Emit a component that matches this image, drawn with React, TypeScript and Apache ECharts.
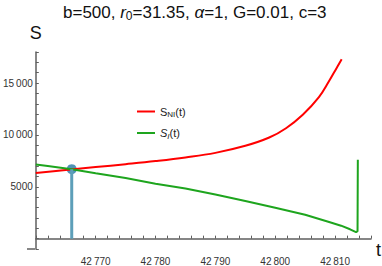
import React, { useEffect, useRef } from 'react';
import * as echarts from 'echarts';

// S_NI(t) curve
const tRed = [42760, 42765, 42770, 42775, 42780, 42785, 42790, 42795, 42799, 42801.8, 42804.6, 42807.3, 42809, 42810.1, 42811.1];
const sNI = [6330, 6615, 6900, 7180, 7480, 7830, 8270, 8950, 9750, 10650, 11950, 13650, 15200, 16300, 17300];
// S_I(t) curve
const tGreen = [42760, 42762, 42766, 42770, 42775, 42780, 42785, 42790, 42795, 42800, 42805, 42809, 42811, 42812.5, 42813.5, 42813.75, 42813.8];
const sI = [7150, 7000, 6700, 6300, 5840, 5300, 4830, 4250, 3630, 2980, 2300, 1600, 1250, 900, 620, 720, 7600];
// marked crossing point
const tStar = 42766;
const sStar = 6700;

const yMajor = [5000, 10000, 15000];
const xMajor = [42770, 42780, 42790, 42800, 42810];

const FONT = '"Liberation Sans", Arial, sans-serif';

function fmtNum(v: number): string {
  if (Math.abs(v) >= 10000) {
    const th = Math.floor(v / 1000);
    const rest = String(Math.round(v % 1000)).padStart(3, '0');
    return `${th}\u2009${rest}`;
  }
  return String(v);
}

export default function App() {
  const ref = useRef<HTMLDivElement>(null);
  useEffect(() => {
    if (!ref.current) return;
    const chart = echarts.init(ref.current, null, { renderer: 'svg' });
    const axisColor = '#5f5f5f';
    chart.setOption({
      animation: false,
      backgroundColor: '#ffffff',
      title: {
        left: 63,
        top: 2,
        padding: 0,
        text: '{n|b=500, }{i|r}{s|0}{n|=31.35, }{i|α}{n|=1, G=0.01, c=3}',
        textStyle: {
          fontFamily: FONT,
          fontWeight: 'normal',
          rich: {
            n: { fontSize: 17, color: '#111', fontFamily: FONT, lineHeight: 20 },
            i: { fontSize: 17, color: '#111', fontStyle: 'italic', fontFamily: FONT, lineHeight: 20 },
            s: { fontSize: 12, color: '#111', fontFamily: FONT, lineHeight: 12, verticalAlign: 'bottom' },
          },
        },
      },
      legend: {
        data: ['SNI', 'SI'],
        orient: 'vertical',
        left: 132,
        top: 101,
        itemWidth: 18,
        itemHeight: 2,
        itemGap: 9,
        icon: 'rect',
        formatter: (name: string) =>
          name === 'SNI' ? '{a|S}{b|NI}{c|(t)}' : '{ai|S}{bi|I}{c|(t)}',
        textStyle: {
          fontFamily: FONT,
          rich: {
            a: { fontSize: 11, color: '#222', fontFamily: FONT, lineHeight: 14 },
            ai: { fontSize: 11, color: '#222', fontStyle: 'italic', fontFamily: FONT, lineHeight: 14 },
            b: { fontSize: 8, color: '#222', fontFamily: FONT, lineHeight: 8, verticalAlign: 'bottom' },
            bi: { fontSize: 8, color: '#222', fontStyle: 'italic', fontFamily: FONT, lineHeight: 8, verticalAlign: 'bottom' },
            c: { fontSize: 11, color: '#222', fontFamily: FONT, lineHeight: 14 },
          },
        },
      },
      grid: { left: 35, right: 11, top: 52, bottom: 6, containLabel: false },
      xAxis: {
        type: 'value',
        min: 42760,
        max: 42816,
        interval: 2,
        axisLine: { onZero: true, lineStyle: { color: axisColor, width: 1.5 } },
        axisTick: { inside: true, length: 3, lineStyle: { color: axisColor, width: 1 } },
        axisLabel: {
          margin: 7,
          fontFamily: FONT,
          fontSize: 10,
          color: '#333',
          verticalAlign: 'top',
          formatter: (v: number) => (xMajor.includes(Math.round(v)) ? fmtNum(Math.round(v)) : ''),
        },
        splitLine: { show: false },
      },
      yAxis: {
        type: 'value',
        min: -1000,
        max: 18000,
        interval: 1000,
        name: 'S',
        nameLocation: 'end',
        nameGap: 10,
        nameTextStyle: { fontFamily: FONT, fontSize: 18, color: '#111', align: 'center' },
        axisLine: { onZero: false, lineStyle: { color: axisColor, width: 1.5 } },
        axisTick: { inside: true, length: 3, lineStyle: { color: axisColor, width: 1 } },
        axisLabel: {
          margin: 3,
          fontFamily: FONT,
          fontSize: 10,
          color: '#333',
          formatter: (v: number) => (yMajor.includes(Math.round(v)) ? fmtNum(Math.round(v)) : ''),
        },
        splitLine: { show: false },
      },
      graphic: [
        {
          type: 'line',
          shape: { x1: 27, y1: 249, x2: 35, y2: 249 },
          style: { stroke: axisColor, lineWidth: 1.5 },
          silent: true,
        },
        {
          type: 'text',
          x: 376,
          y: 250,
          style: {
            text: 't',
            fontFamily: FONT,
            fontSize: 18,
            fill: '#111',
            align: 'left',
            verticalAlign: 'middle',
          },
          silent: true,
        },
      ],
      series: [
        {
          name: 'SNI',
          type: 'line',
          data: tRed.map((t, i) => [t, sNI[i]]),
          showSymbol: false,
          symbol: 'none',
          smooth: 0.4,
          lineStyle: { color: '#ff0000', width: 2 },
          itemStyle: { color: '#ff0000' },
        },
        {
          name: 'SI',
          type: 'line',
          data: tGreen.map((t, i) => [t, sI[i]]),
          showSymbol: false,
          symbol: 'none',
          lineStyle: { color: '#1ea51e', width: 2 },
          itemStyle: { color: '#1ea51e' },
        },
        {
          name: 'stem',
          type: 'line',
          data: [[tStar, 0], [tStar, sStar]],
          symbol: 'none',
          lineStyle: { color: '#5d9fb9', width: 3 },
        },
        {
          name: 'point',
          type: 'scatter',
          data: [[tStar, sStar]],
          symbolSize: 10,
          itemStyle: { color: '#2378a5' },
        },
      ],
    });
    return () => chart.dispose();
  }, []);
  return <div ref={ref} style={{ width: 382, height: 266, position: 'absolute', left: 0, top: 0 }} />;
}
